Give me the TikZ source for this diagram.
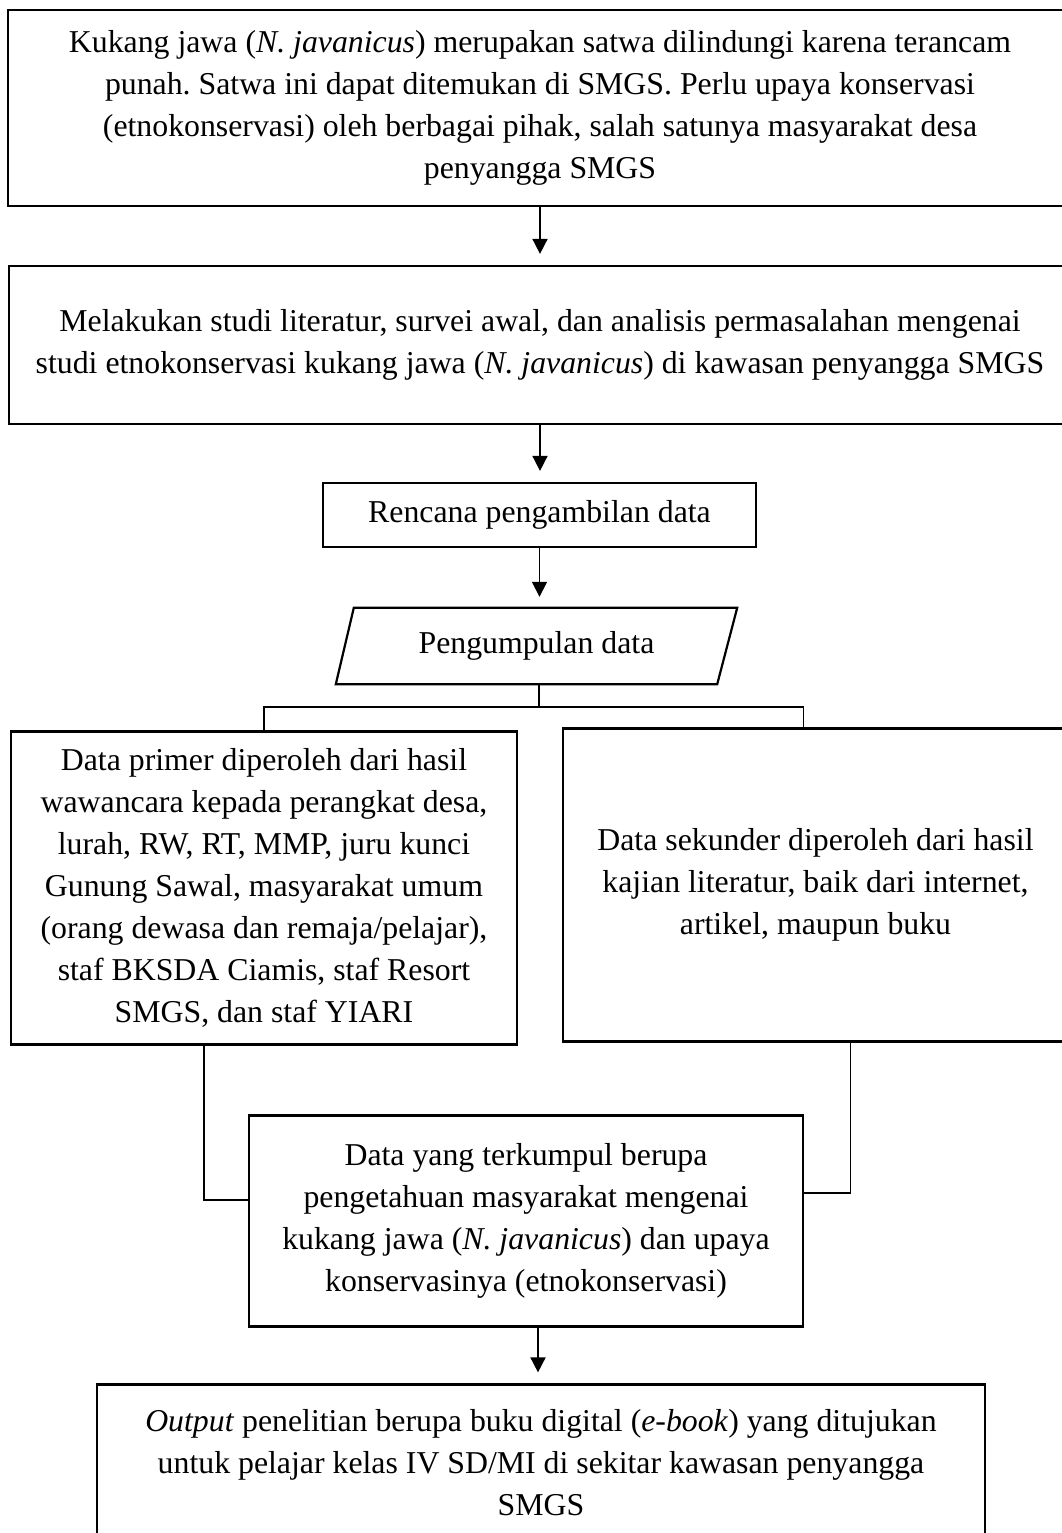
\documentclass[tikz,border=0pt]{standalone}
\usepackage{fontspec}
\setmainfont{Liberation Serif}
\usetikzlibrary{arrows.meta}
\frenchspacing
\begin{document}
\begin{tikzpicture}[x=1pt,y=-1pt,
  box/.style={draw, line width=2.2pt, inner sep=0pt, align=center, font=\fontsize{31.8}{42}\selectfont},
  plain/.style={inner sep=0pt, align=center, font=\fontsize{31.8}{42}\selectfont},
  conn/.style={line width=1.6pt},
  arr/.style={conn, -{Triangle[width=15pt,length=15pt]}, shorten >=11pt}]
\path[use as bounding box, clip] (0,0) rectangle (1062,1533);

\node[box, minimum width=1064pt, minimum height=196pt] (b1) at (540,108)
  {Kukang jawa (\textit{N. javanicus}) merupakan satwa dilindungi karena terancam\\
   punah. Satwa ini dapat ditemukan di SMGS. Perlu upaya konservasi\\
   (etnokonservasi) oleh berbagai pihak, salah satunya masyarakat desa\\
   penyangga SMGS};

\node[box, minimum width=1062pt, minimum height=158pt] (b2) at (540,345)
  {Melakukan studi literatur, survei awal, dan analisis permasalahan mengenai\\
   studi etnokonservasi kukang jawa (\textit{N. javanicus}) di kawasan penyangga SMGS};

\node[box, minimum width=433pt, minimum height=64pt] (b3) at (539.5,515)
  {Rencana pengambilan data};

\node[plain, minimum width=401pt, minimum height=76pt] (pg) at (536.5,646)
  {Pengumpulan data};
\draw[line width=2.2pt, line join=miter]
  ([xshift=18pt]pg.north west) -- (pg.north east) -- ([xshift=-20pt]pg.south east)
  -- (pg.south west) -- cycle;

\node[box, minimum width=506pt, minimum height=313pt] (L) at (264,888)
  {Data primer diperoleh dari hasil\\
   wawancara kepada perangkat desa,\\
   lurah, RW, RT, MMP, juru kunci\\
   Gunung Sawal, masyarakat umum\\
   (orang dewasa dan remaja/pelajar),\\
   staf BKSDA Ciamis, staf Resort\\
   SMGS, dan staf YIARI};

\node[box, minimum width=505pt, minimum height=313pt] (R) at (815.5,885)
  {Data sekunder diperoleh dari hasil\\
   kajian literatur, baik dari internet,\\
   artikel, maupun buku};

\node[box, minimum width=554pt, minimum height=211pt] (C) at (526,1221)
  {Data yang terkumpul berupa\\
   pengetahuan masyarakat mengenai\\
   kukang jawa (\textit{N. javanicus}) dan upaya\\
   konservasinya (etnokonservasi)};

\node[box, minimum width=888pt, minimum height=157pt] (B) at (541,1463)
  {\textit{Output} penelitian berupa buku digital (\textit{e-book}) yang ditujukan\\
   untuk pelajar kelas IV SD/MI di sekitar kawasan penyangga\\
   SMGS};

% connectors
\draw[arr] (b1.south) -- (b2.north);
\draw[arr] (b2.south) -- (b2.south |- b3.north);
\draw[arr] (b3.south) -- (b3.south |- pg.north);
\draw[conn] ([xshift=2.5pt]pg.south) -- ++(0,23) coordinate (j);
\draw[conn] (L.north) |- (j) -| ([xshift=-12pt]R.north);
\draw[conn] ([xshift=-60pt]L.south) |- ([yshift=21pt]C.west);
\draw[conn] ([xshift=35pt]R.south) |- ([yshift=28pt]C.east);
\draw[arr] ([xshift=12pt]C.south) -- ([xshift=12pt]C.south |- B.north);
\end{tikzpicture}
\end{document}
